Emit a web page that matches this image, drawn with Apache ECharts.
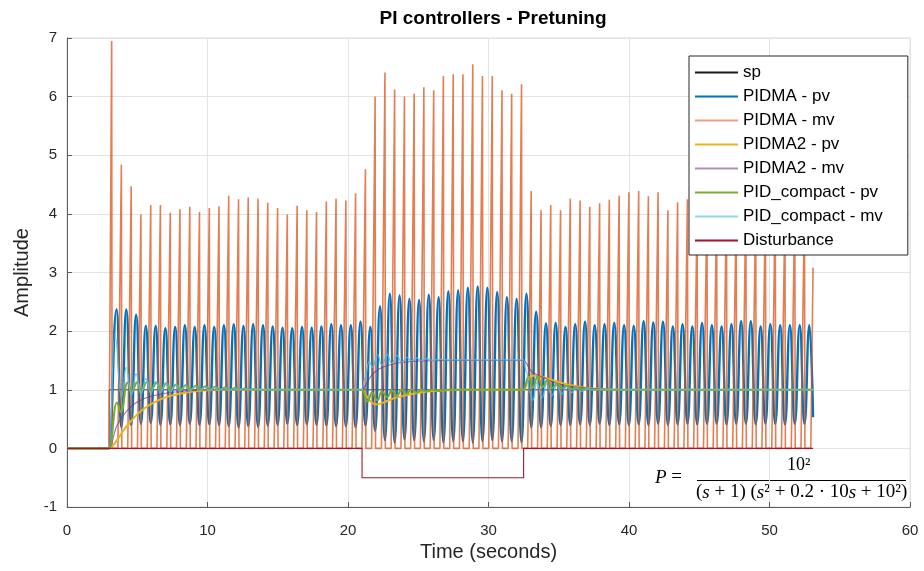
<!DOCTYPE html>
<html>
<head>
<meta charset="utf-8">
<script src="https://cdn.jsdelivr.net/npm/echarts@6/dist/echarts.min.js"></script>
<style>html,body{margin:0;padding:0;background:#fff}#c{width:924px;height:571px}</style>
</head>
<body>
<div id="c"></div>
<script>
// ---- data (time in seconds, amplitude) ----
var seriesNames = ['sp','PIDMA - pv','PIDMA - mv','PIDMA2 - pv','PIDMA2 - mv','PID_compact - pv','PID_compact - mv','Disturbance'];
var xTicks = [0,10,20,30,40,50,60];
var yTicks = [-1,0,1,2,3,4,5,6,7];

var sp = [[0,0],[3,0],[3,1],[53.1,1]];

var pidmaPv = [[0,0],[3.0,0],[3.53,2.37],[3.87,0.36],[4.22,2.37],[4.57,0.40],[4.92,2.28],[5.26,0.42],[5.61,2.09],[5.96,0.43],[6.31,2.09],[6.65,0.40],[7.00,2.05],[7.35,0.41],[7.70,2.07],[8.04,0.40],[8.39,2.10],[8.74,0.42],[9.09,2.07],[9.43,0.40],[9.78,2.10],[10.13,0.41],[10.48,2.07],[10.82,0.40],[11.17,2.10],[11.51,0.38],[11.87,2.12],[12.21,0.36],[12.56,2.09],[12.90,0.38],[13.25,2.12],[13.60,0.37],[13.95,2.10],[14.29,0.39],[14.64,2.08],[14.99,0.40],[15.34,2.06],[15.68,0.42],[16.03,2.05],[16.38,0.40],[16.73,2.07],[17.07,0.41],[17.42,2.06],[17.76,0.40],[18.11,2.08],[18.46,0.39],[18.81,2.12],[19.15,0.38],[19.50,2.10],[19.85,0.38],[20.20,2.10],[20.54,0.36],[20.89,2.16],[21.24,0.39],[21.59,2.07],[21.93,0.30],[22.28,2.42],[22.63,0.14],[22.98,2.64],[23.32,0.10],[23.67,2.61],[24.02,0.15],[24.37,2.55],[24.71,0.14],[25.06,2.53],[25.40,0.12],[25.75,2.62],[26.10,0.14],[26.45,2.58],[26.79,0.10],[27.14,2.68],[27.49,0.12],[27.84,2.70],[28.18,0.12],[28.53,2.74],[28.88,0.10],[29.23,2.76],[29.57,0.12],[29.92,2.74],[30.27,0.14],[30.62,2.67],[30.96,0.12],[31.31,2.58],[31.65,0.12],[32.00,2.55],[32.35,0.10],[32.70,2.64],[33.04,0.36],[33.39,2.33],[33.74,0.36],[34.09,2.13],[34.43,0.38],[34.78,2.14],[35.13,0.40],[35.48,2.07],[35.82,0.40],[36.17,2.12],[36.52,0.41],[36.87,2.16],[37.21,0.40],[37.56,2.10],[37.91,0.42],[38.26,2.12],[38.60,0.40],[38.95,2.14],[39.30,0.41],[39.65,2.10],[39.99,0.40],[40.34,2.09],[40.69,0.41],[41.04,2.17],[41.38,0.40],[41.73,2.15],[42.07,0.42],[42.42,2.16],[42.77,0.40],[43.12,2.08],[43.46,0.41],[43.81,2.12],[44.16,0.42],[44.51,2.08],[44.85,0.41],[45.20,2.14],[45.55,0.42],[45.90,2.10],[46.24,0.42],[46.59,2.08],[46.94,0.41],[47.29,2.12],[47.63,0.42],[47.98,2.17],[48.32,0.42],[48.67,2.17],[49.02,0.41],[49.37,2.08],[49.71,0.42],[50.06,2.12],[50.41,0.42],[50.76,2.10],[51.10,0.41],[51.45,2.10],[51.80,0.42],[52.15,2.10],[52.49,0.42],[52.84,2.10],[53.10,0.53]];

var pidmaMv = [[0,0],[3.00,0],[3.18,6.95],[3.21,0],
[3.62,0],[3.87,4.84],[3.90,0],[4.32,0],[4.57,4.47],[4.60,0],[5.01,0],[5.26,3.99],[5.29,0],
[5.71,0],[5.96,4.15],[5.99,0],[6.40,0],[6.65,4.15],[6.68,0],[7.10,0],[7.35,4.02],[7.38,0],
[7.79,0],[8.04,4.08],[8.07,0],[8.49,0],[8.74,4.12],[8.77,0],[9.18,0],[9.43,4.03],[9.46,0],
[9.88,0],[10.13,4.10],[10.16,0],[10.57,0],[10.82,4.13],[10.85,0],[11.26,0],[11.51,4.31],[11.54,0],
[11.96,0],[12.21,4.25],[12.24,0],[12.65,0],[12.90,4.28],[12.93,0],[13.35,0],[13.60,4.26],[13.63,0],
[14.04,0],[14.29,4.19],[14.32,0],[14.74,0],[14.99,4.10],[15.02,0],[15.43,0],[15.68,3.99],[15.71,0],
[16.13,0],[16.38,4.14],[16.41,0],[16.82,0],[17.07,4.06],[17.10,0],[17.51,0],[17.76,4.03],[17.79,0],
[18.21,0],[18.46,4.21],[18.49,0],[18.90,0],[19.15,4.26],[19.18,0],[19.60,0],[19.85,4.23],[19.88,0],
[20.29,0],[20.54,4.35],[20.57,0],[20.99,0],[21.24,4.76],[21.27,0],[21.68,0],[21.93,6.00],[21.96,0],
[22.38,0],[22.63,6.41],[22.66,0],[23.07,0],[23.32,6.12],[23.35,0],[23.77,0],[24.02,6.00],[24.05,0],
[24.46,0],[24.71,6.05],[24.74,0],[25.15,0],[25.40,6.16],[25.43,0],[25.85,0],[26.10,6.11],[26.13,0],
[26.54,0],[26.79,6.35],[26.82,0],[27.24,0],[27.49,6.38],[27.52,0],[27.93,0],[28.18,6.38],[28.21,0],
[28.63,0],[28.88,6.55],[28.91,0],[29.32,0],[29.57,6.35],[29.60,0],[30.02,0],[30.27,6.35],[30.30,0],
[30.71,0],[30.96,6.11],[30.99,0],[31.40,0],[31.65,6.05],[31.68,0],[32.10,0],[32.35,6.21],[32.38,0],
[32.79,0],[33.04,4.39],[33.07,0],[33.49,0],[33.74,4.06],[33.77,0],[34.18,0],[34.43,4.15],[34.46,0],
[34.88,0],[35.13,4.06],[35.16,0],[35.57,0],[35.82,4.26],[35.85,0],[36.27,0],[36.52,4.23],[36.55,0],
[36.96,0],[37.21,4.12],[37.24,0],[37.66,0],[37.91,4.18],[37.94,0],[38.35,0],[38.60,4.24],[38.63,0],
[39.05,0],[39.30,4.31],[39.33,0],[39.74,0],[39.99,4.37],[40.02,0],[40.44,0],[40.69,4.39],[40.72,0],
[41.13,0],[41.38,4.30],[41.41,0],[41.82,0],[42.07,4.37],[42.10,0],[42.52,0],[42.77,4.06],[42.80,0],
[43.21,0],[43.46,4.20],[43.49,0],[43.91,0],[44.16,4.25],[44.19,0],[44.60,0],[44.85,4.10],[44.88,0],
[45.30,0],[45.55,4.30],[45.58,0],[45.99,0],[46.24,4.20],[46.27,0],[46.69,0],[46.94,4.35],[46.97,0],
[47.38,0],[47.63,4.15],[47.66,0],[48.07,0],[48.32,4.30],[48.35,0],[48.77,0],[49.02,4.20],[49.05,0],
[49.46,0],[49.71,4.25],[49.74,0],[50.16,0],[50.41,4.30],[50.44,0],[50.85,0],[51.10,4.15],[51.13,0],
[51.55,0],[51.80,4.30],[51.83,0],[52.24,0],[52.49,4.20],[52.52,0],[52.94,0],[53.10,3.08]];

var pidma2Pv = [[0,0],[3.0,0],[3.5,0.12],[4.0,0.3],[4.5,0.45],[5.0,0.58],[5.5,0.68],[6.0,0.76],[6.5,0.82],[7.0,0.87],[8.0,0.93],[9.0,0.97],[10,0.99],[11,1.0],[21,1.0],[21.3,0.9],[21.6,0.8],[22.0,0.75],[22.5,0.78],[23,0.83],[23.5,0.87],[24,0.9],[25,0.95],[26,0.98],[27,0.99],[28,1.0],[32.5,1.0],[32.8,1.18],[33.2,1.24],[33.7,1.23],[34.6,1.16],[35.8,1.08],[37,1.03],[38.5,1.01],[40,1.0],[53.1,1.0]];

var pidma2Mv = [[0,0],[3.0,0],[3.2,0.1],[3.5,0.36],[4.0,0.56],[4.5,0.7],[5.0,0.79],[5.5,0.85],[6.0,0.89],[7.0,0.94],[8.0,0.97],[9.0,0.99],[10,1.0],[21,1.0],[21.3,1.1],[21.6,1.22],[22.0,1.32],[22.5,1.39],[23.2,1.44],[24,1.47],[25,1.49],[27,1.5],[32.5,1.5],[32.7,1.45],[33.0,1.33],[33.5,1.25],[34.0,1.2],[34.6,1.13],[35.5,1.07],[36.5,1.04],[38,1.01],[40,1.0],[53.1,1.0]];

var compactPv = [[0,0],[3.0,0],[3.55,0.78],[3.85,0.62],[4.3,1.12],[4.62,0.97],[5.0,1.13],[5.3,0.99],[5.68,1.13],[6.0,1.0],[6.38,1.12],[6.7,1.0],[7.08,1.11],[7.4,1.0],[7.78,1.09],[8.1,1.0],[8.47,1.08],[8.8,1.0],[9.17,1.07],[9.5,1.0],[9.86,1.06],[10.2,1.0],[10.56,1.05],[10.9,1.0],[11.25,1.04],[11.6,1.0],[11.95,1.03],[12.3,1.0],[12.64,1.02],[13.0,1.0],[13.34,1.01],[14,1.0],[21,1.0],[21.4,0.8],[21.7,0.95],[22.1,0.82],[22.4,0.97],[22.8,0.87],[23.1,0.99],[23.5,0.9],[23.8,1.0],[24.2,0.93],[24.5,1.01],[24.9,0.95],[25.2,1.0],[25.6,0.97],[26.0,1.0],[26.5,0.98],[27,1.0],[32.5,1.0],[32.85,1.22],[33.15,1.04],[33.5,1.22],[33.85,1.05],[34.2,1.16],[34.55,1.03],[34.9,1.11],[35.25,1.02],[35.6,1.07],[35.95,1.01],[36.3,1.04],[36.7,1.0],[37.0,1.02],[37.4,1.0],[53.1,1.0]];

var compactMv = [[0,0],[3.0,0],[3.4,1.95],[3.87,0.88],[4.22,1.38],[4.57,0.9],[4.92,1.27],[5.26,0.92],[5.61,1.19],[5.96,0.94],[6.31,1.14],[6.65,0.95],[7.0,1.11],[7.35,0.96],[7.7,1.09],[8.04,0.97],[8.39,1.07],[8.74,0.98],[9.09,1.06],[9.43,0.98],[9.78,1.05],[10.13,0.99],[10.48,1.04],[10.82,0.99],[11.17,1.03],[11.51,0.99],[11.87,1.02],[12.21,1.0],[12.56,1.02],[12.9,1.0],[13.26,1.01],[14,1.0],[21,1.0],[21.2,1.2],[21.5,1.48],[21.75,1.38],[22.1,1.6],[22.4,1.42],[22.8,1.6],[23.1,1.45],[23.5,1.58],[23.8,1.47],[24.2,1.55],[24.5,1.49],[24.9,1.54],[25.2,1.5],[25.6,1.53],[26.0,1.5],[26.5,1.52],[27,1.51],[32.5,1.51],[32.7,1.3],[32.95,0.95],[33.15,0.82],[33.45,1.12],[33.8,0.86],[34.15,1.1],[34.5,0.9],[34.85,1.07],[35.2,0.93],[35.55,1.05],[35.9,0.95],[36.25,1.03],[36.6,0.97],[37,1.01],[37.5,1.0],[53.1,1.0]];

var disturbance = [[0,0],[21,0],[21,-0.5],[32.5,-0.5],[32.5,0],[53.1,0]];

// ---- chart ----
var FONT = 'Liberation Sans, Arial, Helvetica, sans-serif';
var SERIF = '"Liberation Serif", "DejaVu Serif", serif';
var chart = echarts.init(document.getElementById('c'), null, {renderer: 'canvas'});

var lineColors = ['#1a1a1a', '#0072BD', 'rgba(217,83,25,0.75)', '#EDB120', 'rgba(126,47,142,0.7)', '#77AC30', 'rgba(77,190,238,0.9)', '#A2142F'];
var legendColors = ['#1a1a1a', '#0072BD', '#ECA07F', '#EDB120', '#B18DB8', '#77AC30', '#8FD5F4', '#A2142F'];

function lineSeries(i, data, width, opts) {
  var s = {
    name: seriesNames[i], type: 'line', data: data, showSymbol: false, symbol: 'none',
    lineStyle: {color: lineColors[i], width: width}, itemStyle: {color: lineColors[i]},
    emphasis: {disabled: true}, silent: true, animation: false, z: 2
  };
  for (var k in (opts || {})) s[k] = opts[k];
  return s;
}

var option = {
  animation: false,
  backgroundColor: '#ffffff',
  title: {
    text: 'PI controllers - Pretuning',
    left: 488, top: 4, textAlign: 'center',
    textStyle: {fontFamily: FONT, fontWeight: 'bold', fontSize: 19, color: '#000'}
  },
  grid: {left: 67, right: 14, top: 38, bottom: 64, show: true, borderColor: '#dcdcdc', borderWidth: 1, containLabel: false},
  legend: {
    data: seriesNames.map(function (n, i) { return {name: n, itemStyle: {color: legendColors[i]}}; }),
    orient: 'vertical',
    left: 689, top: 56,
    padding: [8, 25, 6, 6],
    icon: 'rect',
    itemWidth: 43, itemHeight: 2, itemGap: 7,
    backgroundColor: '#ffffff',
    borderColor: '#262626', borderWidth: 1, borderRadius: 0,
    textStyle: {fontFamily: FONT, fontSize: 17, color: '#000'},
    selectedMode: false
  },
  xAxis: {
    type: 'value', min: xTicks[0], max: xTicks[xTicks.length - 1], interval: 10,
    name: 'Time (seconds)', nameLocation: 'middle', nameGap: 35,
    nameTextStyle: {fontFamily: FONT, fontSize: 20, color: '#262626'},
    axisLine: {show: true, onZero: false, lineStyle: {color: '#5a5a5a', width: 1}},
    axisTick: {show: true, inside: true, length: 5, lineStyle: {color: '#5a5a5a'}},
    axisLabel: {fontFamily: FONT, fontSize: 15, color: '#262626', margin: 16},
    splitLine: {show: true, lineStyle: {color: '#e3e3e3', width: 1}}
  },
  yAxis: {
    type: 'value', min: yTicks[0], max: yTicks[yTicks.length - 1], interval: 1,
    name: 'Amplitude', nameLocation: 'middle', nameGap: 35,
    nameTextStyle: {fontFamily: FONT, fontSize: 20, color: '#262626'},
    axisLine: {show: true, onZero: false, lineStyle: {color: '#5a5a5a', width: 1}},
    axisTick: {show: true, inside: true, length: 5, lineStyle: {color: '#5a5a5a'}},
    axisLabel: {fontFamily: FONT, fontSize: 15, color: '#262626', margin: 10},
    splitLine: {show: true, lineStyle: {color: '#e3e3e3', width: 1}}
  },
  graphic: [
    {type: 'text', left: 655, top: 468, silent: true,
     style: {text: '{i|P} =', font: '19px ' + SERIF, fill: '#000',
       rich: {i: {font: 'italic 19px ' + SERIF}}}},
    {type: 'text', left: 787, top: 456, silent: true,
     style: {text: '10²', font: '18px ' + SERIF, fill: '#000'}},
    {type: 'line', silent: true, shape: {x1: 697, y1: 480.5, x2: 906, y2: 480.5}, style: {stroke: '#000', lineWidth: 1}},
    {type: 'text', left: 696, top: 483, silent: true,
     style: {text: '({i|s} + 1) ({i|s}² + 0.2 · 10{i|s} + 10²)', font: '19px ' + SERIF, fill: '#000',
       rich: {i: {font: 'italic 19px ' + SERIF}}}}
  ],
  series: [
    lineSeries(0, sp, 0.8),
    lineSeries(1, pidmaPv, 2.4, {smooth: 0.5, smoothMonotone: 'x'}),
    lineSeries(2, pidmaMv, 1.6),
    lineSeries(3, pidma2Pv, 2, {smooth: 0.3}),
    lineSeries(4, pidma2Mv, 1.1, {smooth: 0.3}),
    lineSeries(5, compactPv, 2, {smooth: 0.5, smoothMonotone: 'x'}),
    lineSeries(6, compactMv, 1.2, {smooth: 0.5, smoothMonotone: 'x'}),
    lineSeries(7, disturbance, 1.1)
  ]
};
chart.setOption(option);
</script>
</body>
</html>
